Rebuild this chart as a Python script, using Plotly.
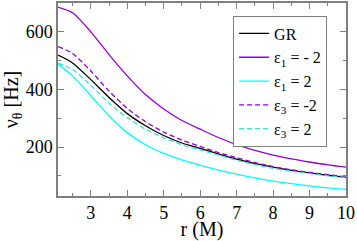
import plotly.graph_objects as go

r = [2.1, 2.5, 3.0, 3.5, 4.0, 4.5, 5.0, 5.5, 6.0, 6.5, 7.0, 7.5, 8.0, 8.5, 9.0, 9.5, 10.0]
gr = [519, 492, 434, 372, 316, 274, 240, 214, 195, 176, 158, 143, 130, 119, 110, 102, 95]
eps1_m2 = [686, 666, 600, 521, 447, 382, 332, 292, 262, 233, 208, 188, 172, 159, 148, 138, 130]
eps1_p2 = [488, 447, 378, 308, 250, 208, 178, 155, 137, 120, 106, 93, 82, 73, 65, 58, 53]
eps3_m2 = [549, 525, 464, 394, 334, 288, 252, 224, 202, 181, 163, 146, 132, 121, 112, 104, 97]
eps3_p2 = [491, 469, 414, 352, 302, 262, 232, 208, 190, 172, 154, 139, 126, 116, 108, 100, 94]

names = ["GR", "ε<sub>1</sub> = - 2", "ε<sub>1</sub> = 2", "ε<sub>3</sub> = -2", "ε<sub>3</sub> = 2"]
series = [gr, eps1_m2, eps1_p2, eps3_m2, eps3_p2]
colors = ["black", "#9400D3", "#00FFFF", "#9400D3", "#40E0D0"]
dashes = ["solid", "solid", "solid", "5px,3px", "5px,3px"]

fig = go.Figure()
for n, y, c, d in zip(names, series, colors, dashes):
    fig.add_trace(go.Scatter(x=r, y=y, mode="lines", name=n,
                             line=dict(color=c, width=1.3, dash=d, shape="spline", smoothing=0.7)))

fam = "Liberation Serif, serif"
tickfont = dict(family=fam, size=18, color="black")
titlefont = dict(family=fam, size=20, color="black")
axis_common = dict(showline=True, linecolor="#808080", linewidth=1.5, mirror="ticks",
                   ticks="inside", ticklen=6, tickcolor="#808080", tickwidth=1.2,
                   showgrid=False, zeroline=False, tickfont=tickfont)
fig.update_xaxes(range=[2.1, 10], dtick=1, tick0=0,
                 minor=dict(dtick=0.5, ticks="inside", ticklen=3, tickcolor="#808080", showgrid=False),
                 title=dict(text="r (M)", font=titlefont, standoff=3), **axis_common)
fig.update_yaxes(range=[30, 700], tickvals=[200, 400, 600],
                 minor=dict(tickvals=[100, 300, 500, 700], ticks="inside", ticklen=3, tickcolor="#808080", showgrid=False),
                 title=dict(text="ν<sub>θ</sub> [Hz]", font=titlefont, standoff=2), **axis_common)
fig.update_layout(width=357, height=241, margin=dict(l=58, r=11, t=1, b=39),
                  plot_bgcolor="white", paper_bgcolor="white", font=titlefont,
                  legend=dict(x=0.608, y=0.935, xanchor="left", yanchor="top",
                              bordercolor="#808080", borderwidth=1, bgcolor="white",
                              font=dict(family=fam, size=16, color="black"),
                              tracegroupgap=0, itemwidth=30))
fig.write_html("out.html", config={"displayModeBar": False},
               post_script="document.body.style.margin='0px';")
